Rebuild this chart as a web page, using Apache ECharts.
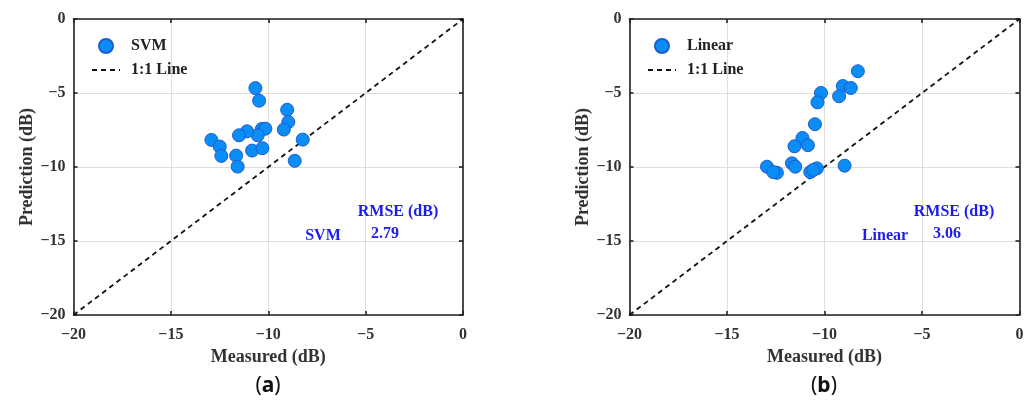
<!DOCTYPE html>
<html><head><meta charset="utf-8">
<script src="https://cdn.jsdelivr.net/npm/echarts/dist/echarts.min.js"></script>
<style>html,body{margin:0;padding:0;background:#fff}#c{width:1033px;height:403px}</style>
</head><body><div id="c"></div>
<script>
// Data (Measured, Prediction) in dB
var svmMeasured   = [-10.66,-10.47,-9.03,-8.97,-9.20,-10.33,-10.15,-10.54,-11.09,-11.50,-12.92,-12.49,-12.41,-11.65,-11.57,-10.83,-10.30,-8.23,-8.64];
var svmPredicted  = [-4.67,-5.52,-6.13,-6.96,-7.47,-7.43,-7.41,-7.86,-7.59,-7.86,-8.17,-8.62,-9.25,-9.23,-9.97,-8.89,-8.73,-8.15,-9.58];
var linMeasured   = [-8.29,-9.06,-8.65,-9.25,-10.18,-10.36,-10.49,-11.13,-11.54,-10.85,-11.67,-11.50,-12.95,-12.44,-10.73,-10.39,-8.97,-12.63,-10.58];
var linPredicted  = [-3.53,-4.53,-4.66,-5.22,-5.00,-5.63,-7.11,-8.04,-8.60,-8.53,-9.75,-9.98,-9.98,-10.39,-10.34,-10.09,-9.91,-10.34,-10.20];
var oneToOne = [[-20,-20],[0,0]];
var axisTicks = [-20,-15,-10,-5,0];
var rmse = {svm:'2.79', linear:'3.06'};
var modelNames = ['SVM','Linear'];
var panelLabels = ['a','b'];

function pairs(xs, ys){ return xs.map(function(x,i){return [x, ys[i]];}); }
var FONT = '"Liberation Serif","Times New Roman",serif';
var fmt = function(v){ return String(v).replace('-', '\u2212'); };

var grids = [
  {left:73.5, top:19, width:389.5, height:296},
  {left:629.5, top:19, width:390, height:296}
];
var xAxes = [], yAxes = [];
grids.forEach(function(g, i){
  xAxes.push({
    gridIndex:i, type:'value', min:-20, max:0, interval:5,
    name:'Measured (dB)', nameLocation:'middle', nameGap:32,
    nameTextStyle:{fontFamily:FONT, fontWeight:'bold', fontSize:18, color:'#333'},
    axisLine:{onZero:false, lineStyle:{color:'#222', width:1.6}},
    axisTick:{inside:true, length:4, lineStyle:{color:'#222', width:1.6}},
    axisLabel:{fontFamily:FONT, fontWeight:'bold', fontSize:16, color:'#333', margin:12, formatter:fmt},
    splitLine:{show:true, lineStyle:{color:'#dedede', width:1}}
  });
  xAxes.push({
    gridIndex:i, type:'value', min:-20, max:0, interval:5, position:'top',
    axisLine:{onZero:false, lineStyle:{color:'#222', width:1.6}},
    axisTick:{inside:true, length:4, lineStyle:{color:'#222', width:1.6}},
    axisLabel:{show:false}, splitLine:{show:false}
  });
  yAxes.push({
    gridIndex:i, type:'value', min:-20, max:0, interval:5,
    name:'Prediction (dB)', nameLocation:'middle', nameGap:37,
    nameTextStyle:{fontFamily:FONT, fontWeight:'bold', fontSize:18, color:'#333'},
    axisLine:{onZero:false, lineStyle:{color:'#222', width:1.6}},
    axisTick:{inside:true, length:4, lineStyle:{color:'#222', width:1.6}},
    axisLabel:{fontFamily:FONT, fontWeight:'bold', fontSize:16, color:'#333', margin:8, formatter:fmt},
    splitLine:{show:true, lineStyle:{color:'#dedede', width:1}}
  });
  yAxes.push({
    gridIndex:i, type:'value', min:-20, max:0, interval:5, position:'right',
    axisLine:{onZero:false, lineStyle:{color:'#222', width:1.6}},
    axisTick:{inside:true, length:4, lineStyle:{color:'#222', width:1.6}},
    axisLabel:{show:false}, splitLine:{show:false}
  });
});

var scatterStyle = {color:'#0a8ef5', borderColor:'#1f5bd0', borderWidth:1, opacity:1};
var datasets = [pairs(svmMeasured, svmPredicted), pairs(linMeasured, linPredicted)];
var series = [];
datasets.forEach(function(d, i){
  series.push({
    name: modelNames[i], type:'scatter', xAxisIndex:2*i, yAxisIndex:2*i,
    data:d, symbolSize:13, itemStyle:scatterStyle, z:3
  });
  series.push({
    name:'1:1 Line', id:'line'+i, type:'line', xAxisIndex:2*i, yAxisIndex:2*i,
    data:oneToOne, symbol:'none', lineStyle:{color:'#111', width:1.8, type:[5,4]}, z:2
  });
});

function legend(i, left){
  return {
    left:left, top:33, orient:'vertical', itemGap:8, itemWidth:28, itemHeight:14,
    data:[{name:modelNames[i], icon:'circle'}, {name:'1:1 Line', itemStyle:{opacity:0}}],
    textStyle:{fontFamily:FONT, fontWeight:'bold', fontSize:16, color:'#222', padding:[0,0,0,6]},
    selectedMode:false
  };
}

var blue = '#1c1cf0';
function txt(x, y, s, align, size){
  return {type:'text', z:100, x:x, y:y, style:{text:s, fill:blue, font:'bold '+(size||16)+'px '+FONT, textAlign:align||'center', textVerticalAlign:'middle'}};
}
function panel(x, letter){
  return {type:'text', z:100, x:x, y:386, style:{rich:{p:{fontFamily:'"Noto Sans",sans-serif', fontSize:21, fill:'#111'}, b:{fontFamily:'"Noto Sans",sans-serif', fontSize:21, fontWeight:'bold', fill:'#111'}}, text:'{p|(}{b|'+letter+'}{p|)}', textAlign:'center', textVerticalAlign:'middle'}};
}
var graphic = [
  txt(398, 212, 'RMSE (dB)'), txt(323, 236, modelNames[0]), txt(385, 234, rmse.svm),
  txt(954, 212, 'RMSE (dB)'), txt(885, 236, modelNames[1]), txt(947, 234, rmse.linear),
  panel(268, panelLabels[0]), panel(824, panelLabels[1])
];

var chart = echarts.init(document.getElementById('c'), null, {renderer:'canvas'});
chart.setOption({
  animation:false, backgroundColor:'#fff',
  grid:grids, xAxis:xAxes, yAxis:yAxes, series:series,
  legend:[legend(0, 86), legend(1, 642)],
  graphic:graphic
});
</script></body></html>
